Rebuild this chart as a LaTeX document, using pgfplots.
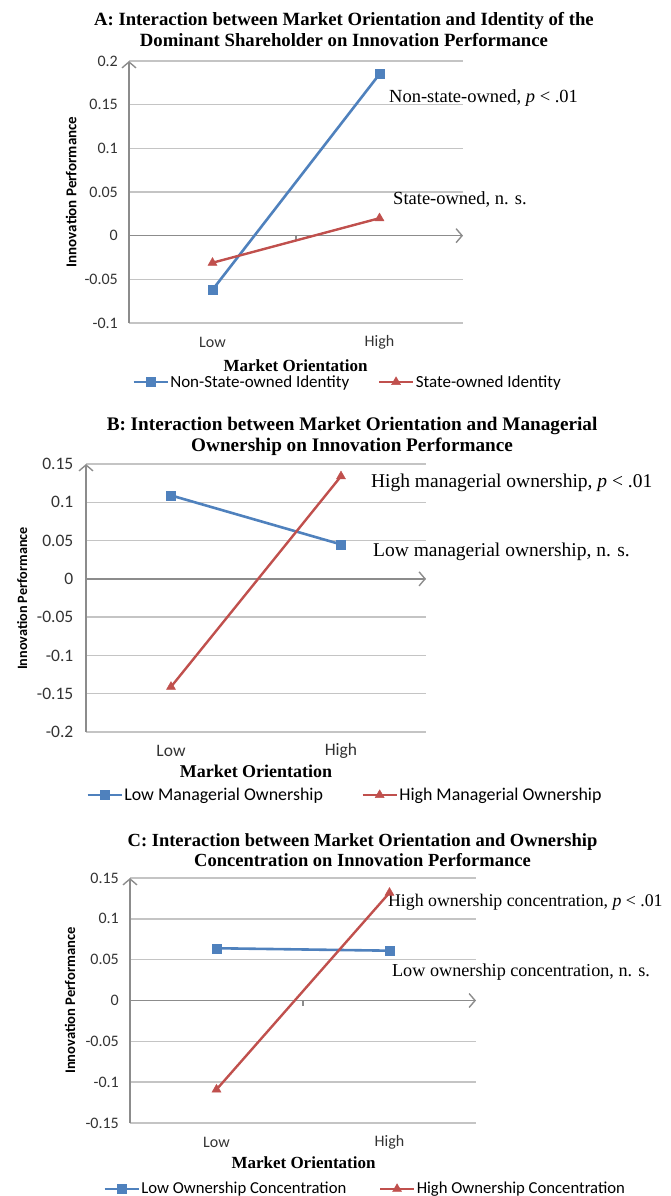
\documentclass[border=0pt]{standalone}
\usepackage{pgfplots}
\pgfplotsset{compat=1.18}
\usepackage{fontspec}
\setmainfont{Liberation Serif}
\newfontfamily\calibri{Carlito}
\usetikzlibrary{arrows.meta}
\definecolor{xlblue}{HTML}{4F81BD}
\definecolor{xlred}{HTML}{C0504D}
\definecolor{gridc}{HTML}{C4C4C4}
\definecolor{axc}{HTML}{8C8C8C}
\pgfplotsset{
 legend image code/.code={\draw[mark repeat=2,mark phase=2,#1] plot coordinates {(0pt,0pt) (17pt,0pt) (34pt,0pt)};},
 common/.style={
  scale only axis, xmin=-0.5, xmax=1.5, xtick={0,1}, xticklabels={Low,High},
  axis line style={draw=none}, major tick length=0pt,
  ymajorgrids, grid style={draw=gridc, line width=1.5pt},
  tick label style={font=\calibri\fontsize{16}{16}\selectfont, text=black!80},
  xticklabel style={anchor=center, yshift=-19pt},
  yticklabel style={anchor=east, inner sep=0pt, xshift=-11pt},
  clip=false,
  legend columns=2,
  legend style={draw=none, fill=none, anchor=west, inner sep=0pt, font=\calibri\fontsize{17}{17}\selectfont, nodes={inner sep=1.5pt}},
 },
}
\tikzset{
 blueser/.style={xlblue, line width=2.6pt, mark=square*, mark size=4.5pt, mark options={solid, line width=0.4pt}},
 redser/.style={xlred, line width=2.4pt, mark=triangle*, mark size=5.2pt, mark options={solid, line width=0.4pt}},
 axarrow/.style={axc, line width=1.4pt, -{Straight Barb[length=6pt,width=14pt]}},
 ann/.style={anchor=west, inner sep=0pt},
 ttl/.style={align=center},
}
\begin{document}
\begin{tikzpicture}
\useasboundingbox (0,0) rectangle (670pt,-1196pt);

% ---------------- Panel A ----------------
\begin{axis}[common, at={(129pt,-323pt)}, anchor=south west, width=334pt, height=262pt,
  ymin=-0.1, ymax=0.2, ytick={-0.1,-0.05,0,0.05,0.1,0.15,0.2},
  yticklabels={-0.1,-0.05,0,0.05,0.1,0.15,0.2},
  legend style={at={(axis description cs:0.009,-0.225)}, /tikz/every even column/.append style={column sep=27pt}}]
\draw[axarrow] (axis cs:-0.5,-0.1) -- (axis cs:-0.5,0.2);
\draw[axarrow] (axis cs:-0.5,0) -- (axis cs:1.5,0);
\draw[axc, line width=1.2pt] (axis cs:0.5,0) -- ++(0pt,-5pt);
\addplot[blueser] coordinates {(0,-0.062) (1,0.185)};
\addlegendentry{Non-State-owned Identity}
\addplot[redser] coordinates {(0,-0.031) (1,0.020)};
\addlegendentry{State-owned Identity}
\node[ann, font=\fontsize{18.5}{18.5}\selectfont] at (axis cs:1.057,0.158) {Non-state-owned, \textit{p} < .01};
\node[ann, font=\fontsize{18.5}{18.5}\selectfont] at (axis cs:1.081,0.041) {State-owned, n. s.};
\node[ttl, font=\bfseries\fontsize{18.7}{20.5}\selectfont] at (axis cs:0.787,0.236) {A: Interaction between Market Orientation and Identity of the\\Dominant Shareholder on Innovation Performance};
\node[font=\bfseries\fontsize{17}{17}\selectfont] at (axis cs:0.497,-0.149) {Market Orientation};
\node[rotate=90, font=\calibri\bfseries\fontsize{15}{15}\selectfont] at (axis cs:-0.847,0.05) {Innovation Performance};
\end{axis}

% ---------------- Panel B ----------------
\begin{axis}[common, at={(86pt,-732pt)}, anchor=south west, width=340pt, height=268pt,
  ymin=-0.2, ymax=0.15, ytick={-0.2,-0.15,-0.1,-0.05,0,0.05,0.1,0.15},
  yticklabels={-0.2,-0.15,-0.1,-0.05,0,0.05,0.1,0.15},
  tick label style={font=\calibri\fontsize{17.5}{17.5}\selectfont},
  yticklabel style={xshift=-1.5pt},
  legend style={at={(axis description cs:0,-0.235)}, font=\calibri\fontsize{17.9}{17.9}\selectfont, /tikz/every even column/.append style={column sep=37pt}}]
\draw[axarrow] (axis cs:-0.5,-0.2) -- (axis cs:-0.5,0.15);
\draw[axarrow] (axis cs:-0.5,0) -- (axis cs:1.5,0);
\addplot[blueser] coordinates {(0,0.109) (1,0.045)};
\addlegendentry{Low Managerial Ownership}
\addplot[redser] coordinates {(0,-0.141) (1,0.134)};
\addlegendentry{High Managerial Ownership}
\node[ann, font=\fontsize{19.5}{19.5}\selectfont] at (axis cs:1.176,0.125) {High managerial ownership, \textit{p} < .01};
\node[ann, font=\fontsize{19.5}{19.5}\selectfont] at (axis cs:1.188,0.035) {Low managerial ownership, n. s.};
\node[ttl, font=\bfseries\fontsize{19.2}{20.5}\selectfont] at (axis cs:1.065,0.186) {B: Interaction between Market Orientation and Managerial\\Ownership on Innovation Performance};
\node[font=\bfseries\fontsize{18}{18}\selectfont] at (axis cs:0.5,-0.2516) {Market Orientation};
\node[rotate=90, font=\calibri\bfseries\fontsize{14.2}{14.2}\selectfont] at (axis cs:-0.876,-0.0257) {Innovation Performance};
\end{axis}

% ---------------- Panel C ----------------
\begin{axis}[common, at={(130pt,-1123pt)}, anchor=south west, width=346pt, height=245pt,
  ymin=-0.15, ymax=0.15, ytick={-0.15,-0.1,-0.05,0,0.05,0.1,0.15},
  yticklabels={-0.15,-0.1,-0.05,0,0.05,0.1,0.15},
  legend style={at={(axis description cs:-0.078,-0.269)}, font=\calibri\fontsize{16.7}{16.7}\selectfont, /tikz/every even column/.append style={column sep=31pt}}]
\draw[axarrow] (axis cs:-0.5,-0.15) -- (axis cs:-0.5,0.15);
\draw[axarrow] (axis cs:-0.5,0) -- (axis cs:1.5,0);
\draw[axc, line width=1.2pt] (axis cs:0.5,0) -- ++(0pt,-5pt);
\addplot[blueser] coordinates {(0,0.064) (1,0.061)};
\addlegendentry{Low Ownership Concentration}
\addplot[redser] coordinates {(0,-0.109) (1,0.132)};
\addlegendentry{High Ownership Concentration}
\node[ann, font=\fontsize{17.8}{17.8}\selectfont] at (axis cs:0.991,0.1203) {High ownership concentration, \textit{p} < .01};
\node[ann, font=\fontsize{18.2}{18.2}\selectfont] at (axis cs:1.014,0.0346) {Low ownership concentration, n. s.};
\node[ttl, font=\bfseries\fontsize{18.5}{20.5}\selectfont] at (axis cs:0.844,0.184) {C: Interaction between Market Orientation and Ownership\\Concentration on Innovation Performance};
\node[font=\bfseries\fontsize{17}{17}\selectfont] at (axis cs:0.503,-0.198) {Market Orientation};
\node[rotate=90, font=\calibri\bfseries\fontsize{14.6}{14.6}\selectfont] at (axis cs:-0.847,0) {Innovation Performance};
\end{axis}
\end{tikzpicture}
\end{document}
